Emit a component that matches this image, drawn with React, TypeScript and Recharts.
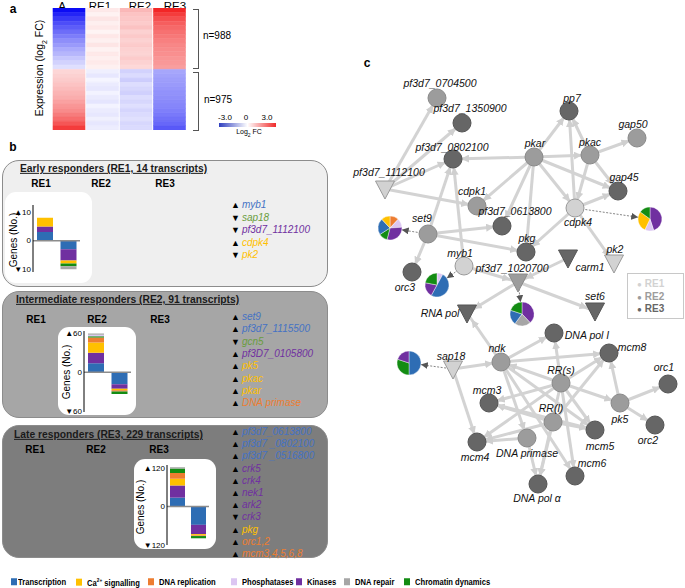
import React from 'react';
import {
    BarChart,
    Bar,
    XAxis,
    YAxis,
    Cell,
    ReferenceLine,
    ScatterChart,
    Scatter,
    Sector
} from 'recharts';

const FONT = '"Liberation Sans", Arial, Helvetica, sans-serif';

// ---------- a: heatmap (log2 FC per band, top -> bottom; 14 bands per cluster)
const heatColumns = ['A', 'RE1', 'RE2', 'RE3'];
const clusterSizes = [988, 975];
const heatA = [-3.0, -2.7, -2.45, -2.2, -2.0, -1.8, -1.6, -1.4, -1.25, -1.05, -0.9, -0.7, -0.55, -0.4,
    0.55, 0.62, 0.7, 0.8, 0.9, 1.0, 1.1, 1.25, 1.4, 1.55, 1.75, 1.95, 2.25, 2.6];
const heatRE1 = [0.3, 0.18, 0.35, 0.22, 0.3, 0.15, 0.32, 0.2, 0.35, 0.18, 0.3, 0.22, 0.28, 0.2,
    -0.2, -0.3, -0.12, -0.25, -0.3, -0.15, -0.25, -0.32, -0.15, -0.25, -0.3, -0.18, -0.3, -0.22];
const heatRE2 = [0.95, 0.8, 0.75, 0.7, 0.82, 0.62, 0.72, 0.6, 0.7, 0.62, 0.58, 0.7, 0.6, 0.52,
    -0.55, -0.45, -0.62, -0.42, -0.5, -0.58, -0.42, -0.5, -0.4, -0.52, -0.45, -0.38, -0.5, -0.45];
const heatRE3 = [2.9, 2.6, 2.35, 2.15, 2.0, 1.9, 1.8, 1.7, 1.6, 1.55, 1.5, 1.42, 1.38, 1.3,
    -1.1, -1.15, -1.2, -1.25, -1.3, -1.35, -1.4, -1.45, -1.5, -1.58, -1.65, -1.75, -1.88, -2.05];

// ---------- b: functional categories and gene counts (category order as below)
const categories = ['Transcription', 'Ca2+ signalling', 'DNA replication', 'Phosphatases', 'Kinases', 'DNA repair', 'Chromatin dynamics'];
const categoryColors = ['#2e6db4', '#ffc000', '#ed7d31', '#dcc6f2', '#7030a0', '#a6a6a6', '#138c13'];
const textColors = ['#4472c4', '#ffc000', '#ed7d31', '#c9a0e8', '#7030a0', '#808080', '#6a9d3e'];
const stackOrder = [0, 4, 1, 2, 6, 3, 5];

const re1Up = [3, 3, 0, 0, 2, 0, 0];
const re1Down = [3, 1, 0, 0, 4, 1, 1];
const re2Up = [14, 16, 8, 2, 16, 2, 2];
const re2Down = [19, 2, 2, 0, 7, 0, 4];
const re3Up = [28, 21, 18, 0, 38, 4, 14];
const re3Down = [57, 4, 2, 0, 29, 0, 7];

// [direction, gene, category index]
const re1Genes: [string, string, number][] = [
    ['up', 'myb1', 0], ['down', 'sap18', 6], ['down', 'pf3d7_1112100', 4], ['up', 'cdpk4', 1], ['down', 'pk2', 1]
];
const re2Genes: [string, string, number][] = [
    ['up', 'set9', 0], ['up', 'pf3d7_1115500', 0], ['down', 'gcn5', 6], ['up', 'pf3D7_0105800', 4],
    ['up', 'pk5', 1], ['up', 'pkac', 1], ['up', 'pkar', 1], ['up', 'DNA primase', 2]
];
const re3Genes: [string, string, number][] = [
    ['up', 'pf3d7_0613800', 0], ['up', 'pf3d7 _0802100', 0], ['up', 'pf3d7 _0516800', 0],
    ['up', 'crk5', 4], ['up', 'crk4', 4], ['up', 'nek1', 4], ['up', 'ark2', 4], ['down', 'crk3', 4],
    ['up', 'pkg', 1], ['up', 'orc1,2', 2], ['up', 'mcm3,4,5,6,8', 2]
];

// ---------- c: network (layout coordinates, responder group, node type)
const nodes: [string, number, number, string, string][] = [
    ['pf3d7_0704500', 97, 58, 'RE2', 'c'], ['pf3d7_1350900', 122, 83, 'RE3', 'c'],
    ['pf3d7_0802100', 113, 119, 'RE3', 'c'], ['pf3d7_1112100', 45, 149, 'RE1', 't'],
    ['pkar', 194, 117, 'RE2', 'c'], ['pkac', 250, 115, 'RE2', 'c'], ['pp7', 229, 71, 'RE3', 'c'],
    ['gap50', 297, 98, 'RE2', 'c'], ['gap45', 278, 151, 'RE3', 'c'], ['cdpk1', 137, 166, 'RE2', 'c'],
    ['cdpk4', 235, 168, 'RE1', 'c'], ['pf3d7_0613800', 162, 186, 'RE3', 'c'], ['set9', 88, 194, 'RE2', 'c'],
    ['pkg', 186, 212, 'RE3', 'c'], ['pk2', 274, 223, 'RE1', 't'], ['carm1', 228, 218, 'RE3', 't'],
    ['myb1', 124, 226, 'RE1', 'c'], ['pf3d7_1020700', 178, 242, 'RE2', 't'], ['orc3', 72, 232, 'RE3', 'c'],
    ['set6', 255, 271, 'RE3', 't'], ['RNA pol', 127, 273, 'RE3', 't'], ['DNA pol I', 214, 293, 'RE3', 'c'],
    ['mcm8', 269, 313, 'RE3', 'c'], ['ndk', 161, 322, 'RE2', 'c'], ['sap18', 113, 329, 'RE1', 't'],
    ['RR(s)', 221, 343, 'RE2', 'c'], ['orc1', 328, 344, 'RE3', 'c'], ['mcm3', 149, 363, 'RE3', 'c'],
    ['pk5', 280, 363, 'RE2', 'c'], ['RR(l)', 213, 382, 'RE2', 'c'], ['orc2', 315, 385, 'RE3', 'c'],
    ['mcm5', 255, 390, 'RE3', 'c'], ['mcm4', 137, 402, 'RE3', 'c'], ['DNA primase', 187, 398, 'RE2', 'c'],
    ['mcm6', 235, 436, 'RE3', 'c'], ['DNA pol α', 198, 444, 'RE3', 'c']
];
const edges: [string, string][] = [
    ['pf3d7_1112100', 'pf3d7_0704500'], ['pf3d7_1112100', 'pf3d7_1350900'], ['pf3d7_1112100', 'pf3d7_0802100'],
    ['pf3d7_1112100', 'cdpk1'], ['pkar', 'pf3d7_0802100'], ['pkar', 'pp7'], ['pkar', 'pkac'], ['pkar', 'cdpk1'],
    ['pkar', 'pf3d7_0613800'], ['pkar', 'pkg'], ['pkar', 'cdpk4'], ['pkar', 'gap45'], ['pkac', 'pp7'],
    ['pkac', 'gap50'], ['pkac', 'gap45'], ['pkac', 'cdpk4'], ['cdpk4', 'pp7'], ['cdpk4', 'gap45'], ['cdpk4', 'pk2'],
    ['cdpk4', 'pkg'], ['set9', 'pf3d7_0802100'], ['set9', 'pf3d7_0613800'], ['set9', 'orc3'], ['set9', 'pkg'],
    ['myb1', 'pf3d7_0802100'], ['myb1', 'pf3d7_1020700'], ['carm1', 'pf3d7_1020700'], ['pf3d7_1020700', 'RNA pol'],
    ['pf3d7_1020700', 'set6'], ['ndk', 'RNA pol'], ['ndk', 'DNA pol I'], ['ndk', 'mcm8'], ['ndk', 'mcm5'],
    ['ndk', 'DNA primase'], ['ndk', 'mcm6'], ['sap18', 'ndk'], ['sap18', 'mcm4'], ['RR(s)', 'DNA pol I'],
    ['RR(s)', 'mcm8'], ['RR(s)', 'mcm3'], ['RR(s)', 'mcm4'], ['RR(s)', 'pk5'], ['RR(s)', 'mcm5'],
    ['RR(s)', 'DNA pol α'], ['RR(s)', 'mcm6'], ['RR(s)', 'ndk'], ['RR(l)', 'mcm8'], ['RR(l)', 'mcm3'],
    ['RR(l)', 'mcm4'], ['RR(l)', 'mcm5'], ['RR(l)', 'DNA pol α'], ['pk5', 'mcm8'], ['pk5', 'orc1'],
    ['pk5', 'orc2'], ['DNA primase', 'DNA pol α'], ['DNA primase', 'mcm4'], ['mcm3', 'mcm5']
];
// GO composition pies: [source gene, x, y, [category, share] clockwise from 12 o'clock]
const pies: { from: string; x: number; y: number; slices: [number, number][] }[] = [
    { from: 'set9', x: 50, y: 188, slices: [[2, 12], [3, 12], [4, 30], [6, 12], [0, 22], [1, 12]] },
    { from: 'cdpk4', x: 310, y: 179, slices: [[4, 45], [3, 12], [1, 28], [6, 15]] },
    { from: 'myb1', x: 97, y: 245, slices: [[3, 8], [0, 50], [4, 20], [6, 22]] },
    { from: 'pf3d7_1020700', x: 182, y: 274, slices: [[4, 38], [5, 22], [0, 20], [6, 20]] },
    { from: 'sap18', x: 69, y: 323, slices: [[0, 50], [6, 30], [4, 20]] }
];
const groups = ['RE1', 'RE2', 'RE3'];

// ---------- styling / label placement
const groupFill: Record<string, string> = { RE1: '#d2d2d2', RE2: '#9c9c9c', RE3: '#666666' };
const groupStroke: Record<string, string> = { RE1: '#9a9a9a', RE2: '#8a8a8a', RE3: '#555555' };
const labelOffsets: Record<string, [number, number]> = {
    pf3d7_0704500: [3, -15], pf3d7_1350900: [8, -15], pf3d7_0802100: [-1, -12], pf3d7_1112100: [4, -17],
    pkar: [1, -14], pkac: [0, -13], pp7: [3, -13], gap50: [-4, -14], gap45: [6, -14], cdpk1: [-5, -15],
    cdpk4: [3, 14], pf3d7_0613800: [13, -15], set9: [-6, -16], pkg: [1, -14], pk2: [1, -14], carm1: [22, 9],
    myb1: [-4, -13], pf3d7_1020700: [-6, -14], orc3: [-7, 15], set6: [0, -15], 'RNA pol': [-27, 0],
    'DNA pol I': [33, 2], mcm8: [23, -6], ndk: [-4, -14], sap18: [-2, -13], 'RR(s)': [0, -13], orc1: [-4, -17],
    mcm3: [-2, -13], pk5: [0, 16], 'RR(l)': [-2, -14], orc2: [-7, 15], mcm5: [5, 16], mcm4: [-2, 15],
    'DNA primase': [0, 15], mcm6: [17, -13], 'DNA pol α': [-1, 14]
};

const heatColor = (v: number) => {
    const t = Math.max(-1, Math.min(1, v / 3));
    const mix = (a: number, b: number, k: number) => Math.round(a + (b - a) * k);
    if (t < 0) {
        const k = -t;
        return `rgb(${mix(255, 12, k)},${mix(255, 12, k)},${mix(255, 245, k)})`;
    }
    return `rgb(${mix(255, 242, t)},${mix(255, 30, t)},${mix(255, 30, t)})`;
};

const T: React.FC<any> = ({ x, y, size = 10, bold, italic, color = '#000', anchor = 'middle', rotate, underline, children }) => (
    <div
        style={{
            position: 'absolute',
            left: x,
            top: y,
            transform: `translate(${anchor === 'middle' ? '-50%' : anchor === 'end' ? '-100%' : '0'}, -50%)${rotate ? ` rotate(${rotate}deg)` : ''}`,
            fontSize: size,
            fontWeight: bold ? 700 : 400,
            fontStyle: italic ? 'italic' : 'normal',
            textDecoration: underline ? 'underline' : 'none',
            color,
            whiteSpace: 'nowrap',
            lineHeight: 1,
            fontFamily: FONT
        }}
    >
        {children}
    </div>
);

const Heatmap = () => {
    const cols = [heatA, heatRE1, heatRE2, heatRE3];
    const half = heatA.length / 2;
    const bandKeys = heatA.map((_, i) => `b${i}`);
    const rows = heatColumns.map(col => {
        const r: Record<string, any> = { col };
        bandKeys.forEach((k, i) => { r[k] = clusterSizes[i < half ? 0 : 1] / half; });
        return r;
    });
    const total = clusterSizes[0] + clusterSizes[1];
    return (
        <div style={{ position: 'absolute', left: 52, top: 8 }}>
            <BarChart width={134} height={122} data={rows} margin={{ top: 0, right: 0, bottom: 0, left: 0 }} barCategoryGap={1}>
                <XAxis dataKey="col" hide />
                <YAxis type="number" domain={[0, total]} reversed hide />
                {bandKeys.map((k, i) => (
                    <Bar key={k} dataKey={k} stackId="h" isAnimationActive={false}>
                        {cols.map((c, ci) => (
                            <Cell key={`h-${ci}`} fill={heatColor(c[i])} stroke={heatColor(c[i])} strokeWidth={0.6} />
                        ))}
                    </Bar>
                ))}
            </BarChart>
        </div>
    );
};

const tickLabel = (v: number) => (v > 0 ? `▲${v}` : v < 0 ? `▼${-v}` : '0');

const ResponderChart: React.FC<any> = ({ up, down, tick, domain, left, top, width, height, margin, axisWidth, barSize }) => {
    const data: Record<string, any>[] = [{ dir: 'up' }, { dir: 'down' }];
    stackOrder.forEach(ci => {
        data[0][`c${ci}`] = up[ci];
        data[1][`c${ci}`] = -down[ci];
    });
    return (
        <div style={{ position: 'absolute', left, top }}>
            <BarChart width={width} height={height} data={data} margin={margin} stackOffset="sign" barCategoryGap={3}>
                <XAxis dataKey="dir" hide />
                <YAxis
                    type="number"
                    domain={domain}
                    ticks={[-tick, 0, tick]}
                    interval={0}
                    tickFormatter={tickLabel}
                    width={axisWidth}
                    axisLine={{ stroke: '#000', strokeWidth: 1 }}
                    tickLine={false}
                    tickSize={0}
                    tickMargin={2}
                    tick={{ fontSize: 8, fill: '#000', fontFamily: FONT }}
                    allowDataOverflow
                />
                <ReferenceLine y={0} stroke="#8c8c8c" strokeWidth={1.5} />
                {stackOrder.map(ci => (
                    <Bar key={ci} dataKey={`c${ci}`} stackId="g" fill={categoryColors[ci]} barSize={barSize} isAnimationActive={false} />
                ))}
            </BarChart>
        </div>
    );
};

const GeneList: React.FC<any> = ({ genes, x, y0, step }) => (
    <>
        {genes.map(([dir, name, cat]: [string, string, number], i: number) => (
            <div key={name} style={{ position: 'absolute', left: x, top: y0 + i * step, transform: 'translateY(-50%)', whiteSpace: 'nowrap', lineHeight: 1, fontSize: 10 }}>
                <span style={{ fontSize: 9, color: '#000', marginRight: 2 }}>{dir === 'up' ? '▲' : '▼'}</span>
                <span style={{ fontStyle: 'italic', color: textColors[cat] }}>{name}</span>
            </div>
        ))}
    </>
);

const Box: React.FC<any> = ({ top, height, bg }) => (
    <div style={{ position: 'absolute', left: 2, top, width: 326, height, background: bg, border: '1.5px solid #8c8c8c', borderRadius: 17, boxSizing: 'border-box' }} />
);
const Inset: React.FC<any> = ({ left, top, width, height }) => (
    <div style={{ position: 'absolute', left, top, width, height, background: '#fff', borderRadius: 11 }} />
);

const NodeGlyph = (p: any) => {
    const { cx, cy, payload } = p;
    const [dx, dy] = labelOffsets[payload.id] ?? [0, -14];
    const fill = groupFill[payload.group];
    const stroke = groupStroke[payload.group];
    return (
        <g>
            {payload.kind === 't' ? (
                <polygon points={`${cx - 9.5},${cy - 8} ${cx + 9.5},${cy - 8} ${cx},${cy + 10}`} fill={fill} stroke={stroke} strokeWidth={1} />
            ) : (
                <circle cx={cx} cy={cy} r={9} fill={fill} stroke={stroke} strokeWidth={1} />
            )}
            <text x={cx + dx} y={cy + dy} textAnchor="middle" dominantBaseline="central" fontSize={10.5} fontStyle="italic" fontFamily={FONT} fill="#111">
                {payload.id}
            </text>
        </g>
    );
};

const PieGlyph = (p: any) => {
    const { cx, cy, payload } = p;
    const total = payload.slices.reduce((s: number, d: [number, number]) => s + d[1], 0);
    let acc = 0;
    return (
        <g>
            {payload.slices.map(([cat, v]: [number, number], i: number) => {
                const start = 90 - (acc / total) * 360;
                acc += v;
                const end = 90 - (acc / total) * 360;
                return <Sector key={i} cx={cx} cy={cy} innerRadius={0} outerRadius={12} startAngle={start} endAngle={end} fill={categoryColors[cat]} stroke="#fff" strokeWidth={0.4} />;
            })}
        </g>
    );
};

const Network = () => {
    const nodeData = nodes.map(([id, x, y, group, kind]) => ({ id, x, y, group, kind }));
    const pos: Record<string, { x: number; y: number }> = {};
    nodeData.forEach(n => { pos[n.id] = { x: n.x, y: n.y }; });
    return (
        <div style={{ position: 'absolute', left: 340, top: 40 }}>
            <ScatterChart width={345} height={480} margin={{ top: 0, right: 0, bottom: 0, left: 0 }}>
                <defs>
                    <marker id="edgeArrow" viewBox="0 0 10 10" markerWidth={8} markerHeight={8} refX={20} refY={5} orient="auto" markerUnits="userSpaceOnUse">
                        <path d="M0,0 L10,5 L0,10 z" fill="#cfcfcf" />
                    </marker>
                    <marker id="pieArrow" viewBox="0 0 10 10" markerWidth={7} markerHeight={7} refX={27} refY={5} orient="auto" markerUnits="userSpaceOnUse">
                        <path d="M0,0 L10,5 L0,10 z" fill="#555" />
                    </marker>
                </defs>
                <XAxis type="number" dataKey="x" domain={[0, 345]} hide />
                <YAxis type="number" dataKey="y" domain={[0, 480]} reversed hide />
                {edges.map(([a, b], i) => (
                    <ReferenceLine
                        key={`e-${i}`}
                        segment={[pos[a], pos[b]]}
                        ifOverflow="visible"
                        shape={(lp: any) => (
                            <line x1={lp.x1} y1={lp.y1} x2={lp.x2} y2={lp.y2} stroke="#d3d3d3" strokeWidth={3} markerEnd="url(#edgeArrow)" />
                        )}
                    />
                ))}
                {pies.map((pd, i) => (
                    <ReferenceLine
                        key={`pl-${i}`}
                        segment={[pos[pd.from], { x: pd.x, y: pd.y }]}
                        ifOverflow="visible"
                        shape={(lp: any) => (
                            <line x1={lp.x1} y1={lp.y1} x2={lp.x2} y2={lp.y2} stroke="#666" strokeWidth={0.8} strokeDasharray="2 1.5" markerEnd="url(#pieArrow)" />
                        )}
                    />
                ))}
                <Scatter data={pies} shape={PieGlyph} isAnimationActive={false} />
                <Scatter data={nodeData} shape={NodeGlyph} isAnimationActive={false} />
            </ScatterChart>
        </div>
    );
};

export default function App() {
    const legendX = [11, 76, 148, 231, 296, 344, 404];
    return (
        <div style={{ position: 'relative', width: 685, height: 588, background: '#fff', fontFamily: FONT, overflow: 'hidden' }}>
            <style>{'body{margin:0}'}</style>

            {/* a */}
            <T x={13} y={9} size={12} bold>a</T>
            <T x={62} y={7} size={11.5}>A</T>
            <T x={100} y={7} size={11.5}>RE1</T>
            <T x={140} y={7} size={11.5}>RE2</T>
            <T x={175} y={7} size={11.5}>RE3</T>
            <T x={41} y={68} size={10.5} rotate={-90}>Expression (log<sub style={{ fontSize: 7 }}>2</sub> FC)</T>
            <Heatmap />
            <div style={{ position: 'absolute', left: 193, top: 9, width: 5, height: 58, borderTop: '1px solid #555', borderRight: '1px solid #555', borderBottom: '1px solid #555' }} />
            <div style={{ position: 'absolute', left: 193, top: 72, width: 5, height: 57, borderTop: '1px solid #555', borderRight: '1px solid #555', borderBottom: '1px solid #555' }} />
            <T x={217} y={36} size={10}>n={clusterSizes[0]}</T>
            <T x={218} y={100} size={10}>n={clusterSizes[1]}</T>
            <div style={{ position: 'absolute', left: 219, top: 123, width: 57, height: 4, background: 'linear-gradient(to right, #2f3fbf, #ffffff, #f02a2a)' }} />
            <T x={225} y={118} size={8}>-3.0</T>
            <T x={246} y={118} size={8}>0</T>
            <T x={267} y={118} size={8}>3.0</T>
            <T x={249} y={133} size={7}>Log<sub style={{ fontSize: 5 }}>2</sub> FC</T>

            {/* b */}
            <T x={13} y={147} size={12} bold>b</T>
            <Box top={160} height={127} bg="#efefef" />
            <Box top={291} height={127} bg="#a6a6a6" />
            <Box top={425} height={133} bg="#7d7d7d" />

            <T x={20} y={169} size={10.3} bold underline anchor="start" color="#1a1a1a">Early responders (RE1, 14 transcripts)</T>
            <T x={41} y={184} size={10} bold>RE1</T>
            <T x={101} y={184} size={10} bold>RE2</T>
            <T x={165} y={184} size={10} bold>RE3</T>
            <Inset left={5} top={192} width={87} height={91} />
            <ResponderChart up={re1Up} down={re1Down} tick={10} domain={[-11, 12.5]} left={5} top={192} width={87} height={91}
                margin={{ top: 13, right: 12, bottom: 11, left: 0 }} axisWidth={28} barSize={16} />
            <T x={14} y={240} size={10} rotate={-90}>Genes (No.)</T>
            <GeneList genes={re1Genes} x={231} y0={205} step={12.5} />

            <T x={16} y={300} size={10.3} bold underline anchor="start" color="#1a1a1a">Intermediate responders (RE2, 91 transcripts)</T>
            <T x={36} y={320} size={10} bold>RE1</T>
            <T x={97} y={320} size={10} bold>RE2</T>
            <T x={160} y={320} size={10} bold>RE3</T>
            <Inset left={58} top={327} width={78} height={88} />
            <ResponderChart up={re2Up} down={re2Down} tick={60} domain={[-62, 64]} left={58} top={327} width={78} height={88}
                margin={{ top: 4, right: 5, bottom: 3, left: 0 }} axisWidth={26} barSize={16} />
            <T x={67} y={372} size={10} rotate={-90}>Genes (No.)</T>
            <GeneList genes={re2Genes} x={231} y0={317} step={12.3} />

            <T x={14} y={435} size={10.3} bold underline anchor="start" color="#1a1a1a">Late responders (RE3, 229 transcripts)</T>
            <T x={35} y={450} size={10} bold>RE1</T>
            <T x={96} y={450} size={10} bold>RE2</T>
            <T x={159} y={450} size={10} bold>RE3</T>
            <Inset left={134} top={459} width={82} height={90} />
            <ResponderChart up={re3Up} down={re3Down} tick={120} domain={[-120, 130]} left={134} top={459} width={82} height={90}
                margin={{ top: 6, right: 7, bottom: 4, left: 0 }} axisWidth={33} barSize={15} />
            <T x={141} y={507} size={10} rotate={-90}>Genes (No.)</T>
            <GeneList genes={re3Genes} x={231} y0={432} step={12.2} />

            {/* c */}
            <Network />
            <T x={367} y={63} size={12} bold>c</T>
            <div style={{ position: 'absolute', left: 627, top: 273, width: 57, height: 46, border: '1px solid #c8c8c8', background: '#fff', boxSizing: 'border-box' }} />
            {groups.map((g, i) => (
                <div key={g} style={{ position: 'absolute', left: 637, top: 284 + i * 12.5, transform: 'translateY(-50%)', fontSize: 10, fontWeight: 700, lineHeight: 1, color: groupFill[g], whiteSpace: 'nowrap' }}>
                    <span style={{ fontSize: 8, marginRight: 3 }}>●</span>{g}
                </div>
            ))}

            {/* legend */}
            {categories.map((c, i) => (
                <div key={c} style={{ position: 'absolute', left: legendX[i], top: 582, transform: 'translateY(-50%)', display: 'flex', alignItems: 'center', whiteSpace: 'nowrap', lineHeight: 1 }}>
                    <span style={{ display: 'inline-block', width: 6, height: 7, background: categoryColors[i], marginRight: i === 0 ? 1 : 5 }} />
                    <span style={{ display: 'inline-block', fontWeight: 700, fontSize: 9.5, transform: 'scaleX(0.8)', transformOrigin: 'left center' }}>
                        {i === 1 ? <>Ca<sup style={{ fontSize: 6 }}>2+</sup> signalling</> : c}
                    </span>
                </div>
            ))}
        </div>
    );
}
